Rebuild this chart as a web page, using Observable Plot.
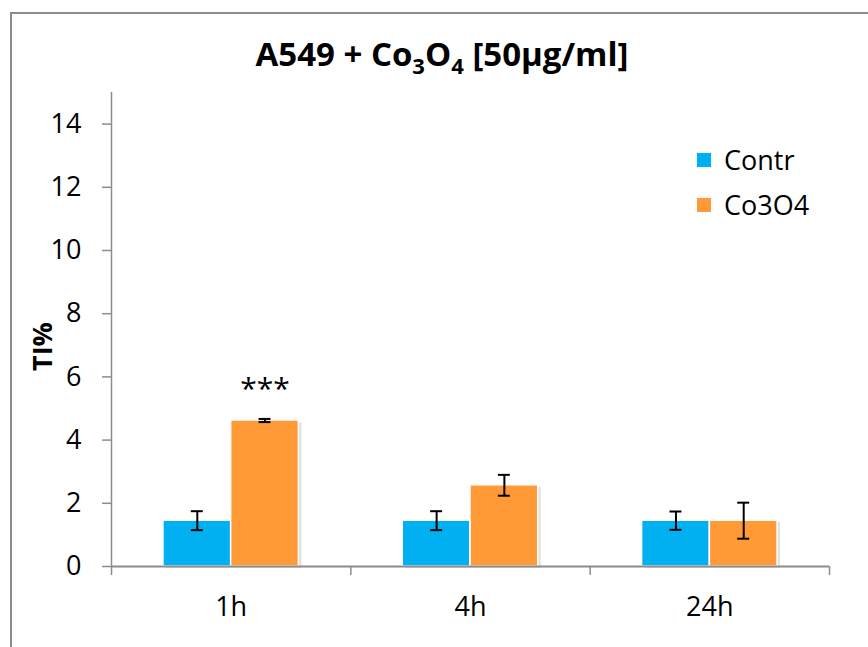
<!DOCTYPE html>
<html>
<head>
<meta charset="utf-8">
<script src="https://cdn.jsdelivr.net/npm/d3@7"></script>
<script src="https://cdn.jsdelivr.net/npm/@observablehq/plot@0.6"></script>
<style>
  html, body { margin: 0; padding: 0; background: #fff; }
  #wrap { position: relative; width: 868px; height: 647px; overflow: hidden; font-family: "Open Sans", sans-serif; }
  #border { position: absolute; left: 10px; top: 12px; width: 900px; height: 700px; border-left: 2px solid #8c8c8c; border-top: 2px solid #8c8c8c; }
  #title { position: absolute; top: 31px; left: 442px; transform: translateX(-50%); font-weight: bold; font-size: 33px; white-space: nowrap; color: #000; }
  #title sub { font-size: 22px; vertical-align: -8px; line-height: 0; }
  #legend { position: absolute; left: 697px; top: 137px; font-size: 27px; color: #000; }
  .item { display: flex; align-items: center; height: 45px; }
  .sw { width: 14px; height: 14px; margin-right: 13px; }
  #chart { position: absolute; left: 0; top: 0; }
</style>
</head>
<body>
<div id="wrap">
  <div id="border"></div>
  <div id="chart"></div>
  <div id="title">A549 + Co<sub>3</sub>O<sub>4</sub> [50µg/ml]</div>
  <div id="legend"></div>
</div>
<script>
const times = ["1h", "4h", "24h"];
const seriesNames = ["Contr", "Co3O4"];
const contrValues = [1.45, 1.45, 1.45];
const contrErrors = [0.3, 0.3, 0.29];
const coValues = [4.62, 2.57, 1.45];
const coErrors = [0.05, 0.33, 0.57];
const yTicks = [0, 2, 4, 6, 8, 10, 12, 14];
const significance = ["***", "", ""];
const colors = ["#00B0F0", "#FF9A36"];

const barW = 0.283;   // bar width as fraction of category band
const capW = 0.025;   // half width of error caps

const rows = [];
times.forEach((t, i) => {
  rows.push({time: t, series: "Contr", value: contrValues[i], err: contrErrors[i], x1: i + 0.5 - barW, x2: i + 0.5, c: i + 0.5 - barW / 2, sig: ""});
  rows.push({time: t, series: "Co3O4", value: coValues[i], err: coErrors[i], x1: i + 0.5, x2: i + 0.5 + barW, c: i + 0.5 + barW / 2, sig: significance[i]});
});

const font = "Open Sans, sans-serif";
const plot = Plot.plot({
  width: 868,
  height: 647,
  marginLeft: 111,
  marginRight: 39,
  marginTop: 92,
  marginBottom: 81,
  style: {fontFamily: font, fontSize: "27px", color: "#000", background: "transparent", overflow: "visible"},
  x: {type: "linear", domain: [0, times.length], axis: null},
  y: {domain: [0, 15], axis: null},
  color: {domain: seriesNames, range: colors},
  marks: [
    // shadows
    Plot.rectY(rows, {x1: "x1", x2: "x2", y1: 0, y2: "value", fill: "#000", fillOpacity: 0.12, dx: 3, dy: 2}),
    Plot.rectY(rows, {x1: "x1", x2: "x2", y1: 0, y2: "value", fill: "series", stroke: "#fff", strokeWidth: 1.5}),
    // error bars
    Plot.ruleX(rows, {x: "c", y1: d => d.value - d.err, y2: d => d.value + d.err, stroke: "#000", strokeWidth: 2}),
    Plot.ruleY(rows, {y: d => d.value - d.err, x1: d => d.c - capW, x2: d => d.c + capW, stroke: "#000", strokeWidth: 2}),
    Plot.ruleY(rows, {y: d => d.value + d.err, x1: d => d.c - capW, x2: d => d.c + capW, stroke: "#000", strokeWidth: 2}),
    Plot.text(rows.filter(d => d.sig), {x: "c", y: d => d.value + d.err, text: "sig", dy: -30, fontSize: 30, letterSpacing: "4px", fill: "#000"}),
    // axes lines
    Plot.ruleY([0], {stroke: "#8c8c8c", strokeWidth: 2}),
    Plot.ruleX([0], {y1: 0, y2: 15, stroke: "#8c8c8c", strokeWidth: 1.5}),
    Plot.axisY({ticks: yTicks, label: null, tickSize: 9, tickPadding: 21, stroke: "#8c8c8c", strokeWidth: 1.5, fill: "#000", fontSize: 27, strokeOpacity: 1}),
    Plot.axisX({ticks: d3.range(times.length + 1), label: null, tickSize: 9, tickFormat: () => "", stroke: "#8c8c8c", strokeWidth: 1.5, strokeOpacity: 1}),
    Plot.axisX({ticks: times.map((t, i) => i + 0.5), label: null, tickSize: 0, tickPadding: 30, tickFormat: v => times[Math.floor(v)], fill: "#000", fontSize: 27}),
    Plot.text(["TI%"], {frameAnchor: "left", textAnchor: "middle", dx: -68, dy: 17, rotate: -90, fontWeight: "bold", fontSize: 27, fill: "#000"})
  ]
});
document.getElementById("chart").appendChild(plot);

const legend = document.getElementById("legend");
seriesNames.forEach((s, i) => {
  const it = document.createElement("div");
  it.className = "item";
  const sw = document.createElement("div");
  sw.className = "sw";
  sw.style.background = colors[i];
  const lb = document.createElement("span");
  lb.textContent = s;
  it.appendChild(sw); it.appendChild(lb);
  legend.appendChild(it);
});
</script>
</body>
</html>
